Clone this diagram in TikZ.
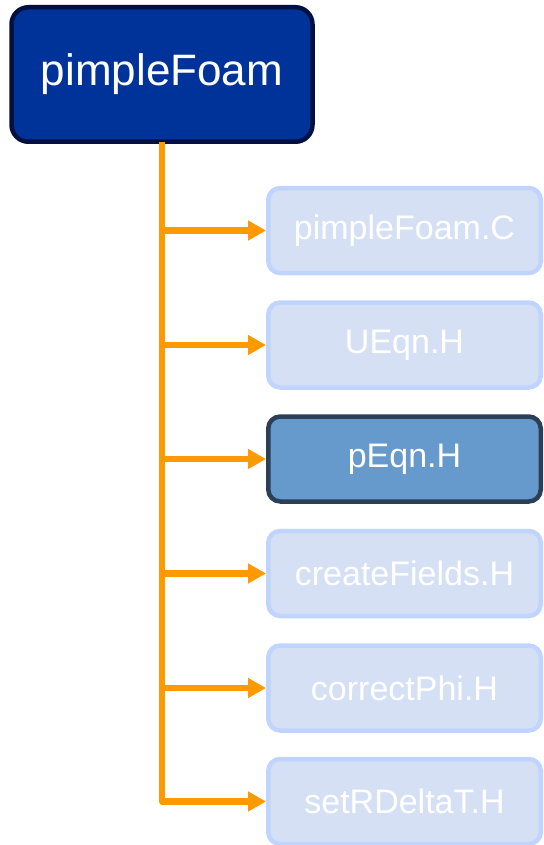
\documentclass[tikz,border=0pt]{standalone}
\usepackage{fontspec}
\setmainfont{Liberation Sans}
\usetikzlibrary{arrows.meta}
\definecolor{rootfill}{HTML}{003399}
\definecolor{rootline}{HTML}{001040}
\definecolor{kidfill}{HTML}{D6E0F5}
\definecolor{kidline}{HTML}{BFD4FF}
\definecolor{hifill}{HTML}{6699CC}
\definecolor{hiline}{HTML}{2B3F57}
\definecolor{trunk}{HTML}{FF9900}
\tikzset{
  rootbox/.style={draw=rootline, fill=rootfill, line width=4.5pt, rounded corners=17pt,
    minimum width=301pt, minimum height=134.5pt, inner sep=0pt, text=white,
    font=\fontsize{44}{52}\selectfont},
  kidbox/.style={draw=kidline, fill=kidfill, line width=4.5pt, rounded corners=12pt,
    minimum width=272.5pt, minimum height=85pt, inner sep=0pt, text=white,
    font=\fontsize{34}{40}\selectfont},
  hibox/.style={kidbox, draw=hiline, fill=hifill},
  link/.style={draw=trunk, line width=6.5pt, line join=round,
    -{Triangle[length=18pt,width=19pt]}}
}
\begin{document}
\begin{tikzpicture}[x=1pt,y=-1pt]
\useasboundingbox (0,0) rectangle (543,845);
\node[rootbox] (root) at (162,74.5) {pimpleFoam};
\node[kidbox] (k1) at (404.5,230.5) {pimpleFoam.C};
\node[kidbox] (k2) at (404.5,345) {UEqn.H};
\node[hibox]  (k3) at (404.5,459) {pEqn.H};
\node[kidbox] (k4) at (404.5,573.5) {createFields.H};
\node[kidbox] (k5) at (404.5,688) {correctPhi.H};
\node[kidbox] (k6) at (404.5,801.5) {setRDeltaT.H};
\foreach \k in {k6,k5,k4,k3,k2,k1}
  \draw[link] (root.south) ++(0,-2) |- (\k.west);
\end{tikzpicture}
\end{document}
